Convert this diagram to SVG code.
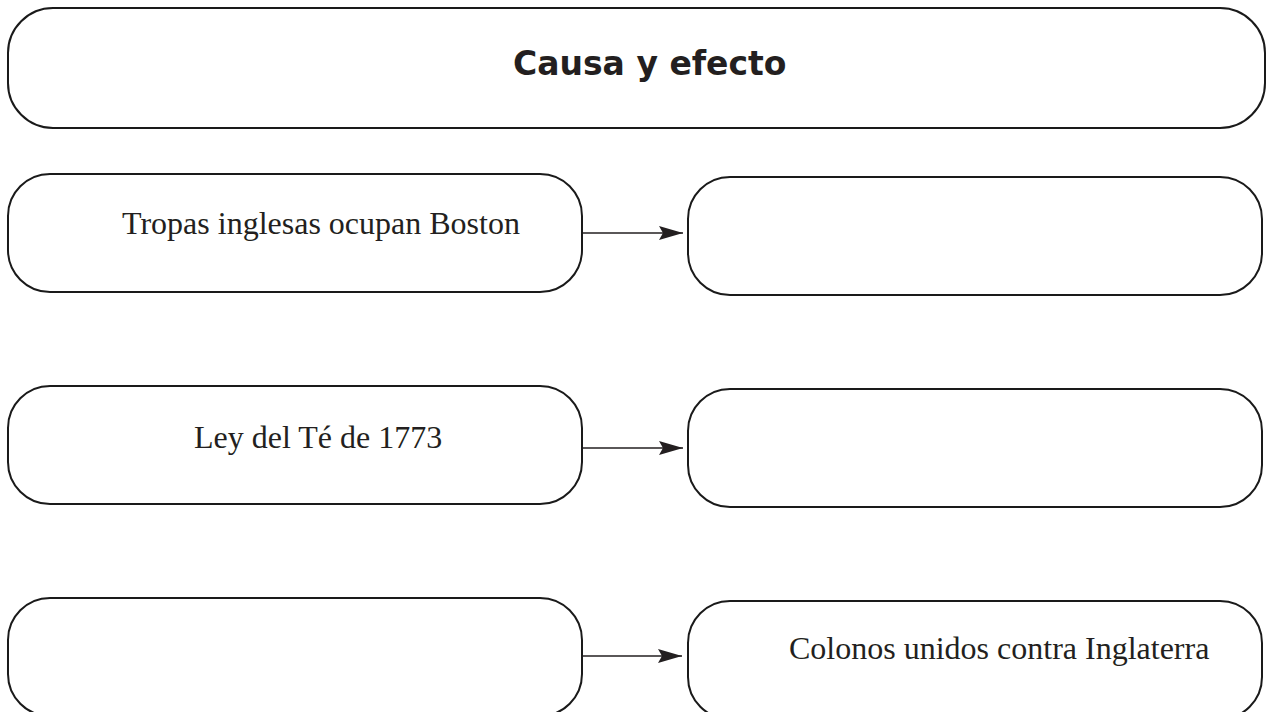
<svg xmlns="http://www.w3.org/2000/svg" width="1270" height="712" viewBox="0 0 1270 712">
<defs>
<style>
.box{fill:#ffffff;stroke:#1a1a1a;stroke-width:2}
.lbl{font-family:"Liberation Serif","Times New Roman",serif;font-size:32px;fill:#231f20}
.title{font-family:"DejaVu Sans","Verdana",sans-serif;font-weight:bold;font-size:33px;fill:#231f20}
.conn{stroke:#231f20;stroke-width:1.6;fill:none}
</style>
<marker id="arr" viewBox="0 0 24 14" refX="24" refY="7" markerWidth="24" markerHeight="14" markerUnits="userSpaceOnUse" orient="auto">
<path d="M0,0 L24,7 L0,14 L4,7 Z" fill="#231f20"/>
</marker>
</defs>
<rect width="1270" height="712" fill="#ffffff"/>
<g id="title">
<rect class="box" x="8" y="8" width="1257" height="120" rx="45" ry="45"/>
<text class="title" x="513" y="75">Causa y efecto</text>
</g>
<g id="cause1">
<rect class="box" x="8" y="174" width="574" height="118" rx="42" ry="42"/>
<text class="lbl" x="122" y="234">Tropas inglesas ocupan Boston</text>
</g>
<g id="effect1">
<rect class="box" x="688" y="177" width="574" height="118" rx="42" ry="42"/>
</g>
<g id="cause2">
<rect class="box" x="8" y="386" width="574" height="118" rx="42" ry="42"/>
<text class="lbl" x="194" y="448">Ley del Té de 1773</text>
</g>
<g id="effect2">
<rect class="box" x="688" y="389" width="574" height="118" rx="42" ry="42"/>
</g>
<g id="cause3">
<rect class="box" x="8" y="598" width="574" height="118" rx="42" ry="42"/>
</g>
<g id="effect3">
<rect class="box" x="688" y="601" width="574" height="118" rx="42" ry="42"/>
<text class="lbl" x="789" y="659">Colonos unidos contra Inglaterra</text>
</g>
<g id="connectors">
<line class="conn" x1="583" y1="233" x2="683" y2="233" marker-end="url(#arr)"/>
<line class="conn" x1="583" y1="448" x2="683" y2="448" marker-end="url(#arr)"/>
<line class="conn" x1="583" y1="656" x2="682" y2="656" marker-end="url(#arr)"/>
</g>
</svg>
